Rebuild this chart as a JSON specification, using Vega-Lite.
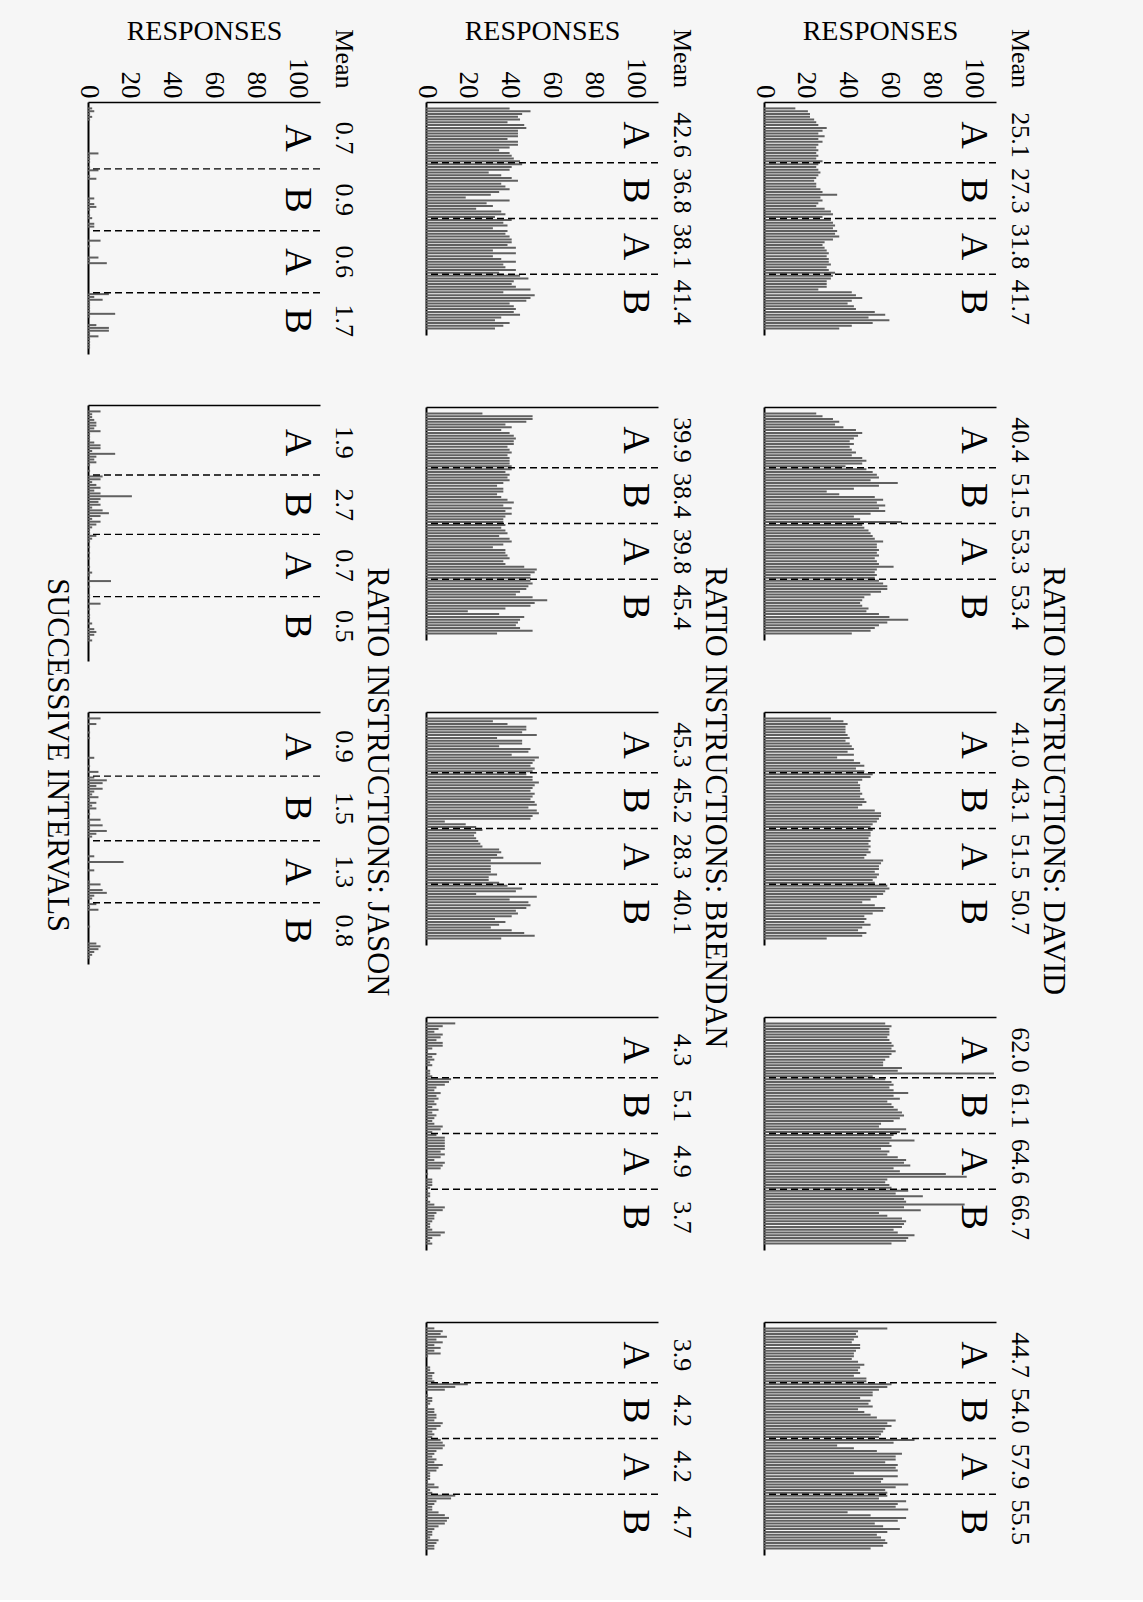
{
"$schema": "https://vega.github.io/schema/vega-lite/v6.json",
"background": "#f6f6f6",
"padding": {"left": 41, "top": 17, "right": 75, "bottom": 45},
"config": {"view": {"stroke": null}, "font": "Liberation Serif", "axis": {"labelFont": "Liberation Serif", "titleFont": "Liberation Serif", "labelColor": "black", "titleColor": "black"}, "text": {"font": "Liberation Serif", "color": "black"}},
"datasets": {
"D1": [{"i":1,"v":15},{"i":2,"v":21},{"i":3,"v":22},{"i":4,"v":22},{"i":5,"v":24},{"i":6,"v":25},{"i":7,"v":26},{"i":8,"v":30},{"i":9,"v":28},{"i":10,"v":26},{"i":11,"v":29},{"i":12,"v":26},{"i":13,"v":28},{"i":14,"v":26},{"i":15,"v":25},{"i":16,"v":26},{"i":17,"v":25},{"i":18,"v":26},{"i":19,"v":25},{"i":20,"v":28},{"i":21,"v":26},{"i":22,"v":25},{"i":23,"v":26},{"i":24,"v":27},{"i":25,"v":26},{"i":26,"v":25},{"i":27,"v":24},{"i":28,"v":25},{"i":29,"v":25},{"i":30,"v":27},{"i":31,"v":28},{"i":32,"v":35},{"i":33,"v":27},{"i":34,"v":28},{"i":35,"v":26},{"i":36,"v":25},{"i":37,"v":29},{"i":38,"v":32},{"i":39,"v":33},{"i":40,"v":28},{"i":41,"v":32},{"i":42,"v":33},{"i":43,"v":34},{"i":44,"v":33},{"i":45,"v":35},{"i":46,"v":34},{"i":47,"v":36},{"i":48,"v":33},{"i":49,"v":29},{"i":50,"v":28},{"i":51,"v":29},{"i":52,"v":30},{"i":53,"v":31},{"i":54,"v":30},{"i":55,"v":31},{"i":56,"v":31},{"i":57,"v":32},{"i":58,"v":30},{"i":59,"v":31},{"i":60,"v":34},{"i":61,"v":33},{"i":62,"v":32},{"i":63,"v":30},{"i":64,"v":30},{"i":65,"v":30},{"i":66,"v":26},{"i":67,"v":42},{"i":68,"v":44},{"i":69,"v":47},{"i":70,"v":42},{"i":71,"v":40},{"i":72,"v":43},{"i":73,"v":44},{"i":74,"v":53},{"i":75,"v":58},{"i":76,"v":50},{"i":77,"v":60},{"i":78,"v":52},{"i":79,"v":42},{"i":80,"v":36}],
"D2": [{"i":1,"v":25},{"i":2,"v":28},{"i":3,"v":33},{"i":4,"v":36},{"i":5,"v":34},{"i":6,"v":38},{"i":7,"v":44},{"i":8,"v":47},{"i":9,"v":45},{"i":10,"v":43},{"i":11,"v":41},{"i":12,"v":43},{"i":13,"v":41},{"i":14,"v":42},{"i":15,"v":44},{"i":16,"v":42},{"i":17,"v":47},{"i":18,"v":49},{"i":19,"v":47},{"i":20,"v":39},{"i":21,"v":49},{"i":22,"v":52},{"i":23,"v":54},{"i":24,"v":55},{"i":25,"v":51},{"i":26,"v":64},{"i":27,"v":55},{"i":28,"v":43},{"i":29,"v":30},{"i":30,"v":36},{"i":31,"v":53},{"i":32,"v":57},{"i":33,"v":54},{"i":34,"v":58},{"i":35,"v":55},{"i":36,"v":58},{"i":37,"v":51},{"i":38,"v":43},{"i":39,"v":46},{"i":40,"v":66},{"i":41,"v":47},{"i":42,"v":48},{"i":43,"v":50},{"i":44,"v":51},{"i":45,"v":52},{"i":46,"v":53},{"i":47,"v":57},{"i":48,"v":54},{"i":49,"v":54},{"i":50,"v":55},{"i":51,"v":54},{"i":52,"v":55},{"i":53,"v":53},{"i":54,"v":54},{"i":55,"v":55},{"i":56,"v":62},{"i":57,"v":54},{"i":58,"v":53},{"i":59,"v":54},{"i":60,"v":53},{"i":61,"v":55},{"i":62,"v":57},{"i":63,"v":59},{"i":64,"v":59},{"i":65,"v":56},{"i":66,"v":51},{"i":67,"v":48},{"i":68,"v":47},{"i":69,"v":46},{"i":70,"v":47},{"i":71,"v":50},{"i":72,"v":49},{"i":73,"v":55},{"i":74,"v":60},{"i":75,"v":69},{"i":76,"v":59},{"i":77,"v":55},{"i":78,"v":53},{"i":79,"v":51},{"i":80,"v":42}],
"D3": [{"i":1,"v":32},{"i":2,"v":38},{"i":3,"v":40},{"i":4,"v":39},{"i":5,"v":39},{"i":6,"v":39},{"i":7,"v":40},{"i":8,"v":41},{"i":9,"v":39},{"i":10,"v":41},{"i":11,"v":42},{"i":12,"v":43},{"i":13,"v":40},{"i":14,"v":43},{"i":15,"v":35},{"i":16,"v":43},{"i":17,"v":46},{"i":18,"v":48},{"i":19,"v":44},{"i":20,"v":48},{"i":21,"v":52},{"i":22,"v":51},{"i":23,"v":47},{"i":24,"v":45},{"i":25,"v":46},{"i":26,"v":46},{"i":27,"v":46},{"i":28,"v":47},{"i":29,"v":46},{"i":30,"v":48},{"i":31,"v":49},{"i":32,"v":47},{"i":33,"v":45},{"i":34,"v":53},{"i":35,"v":56},{"i":36,"v":56},{"i":37,"v":55},{"i":38,"v":54},{"i":39,"v":52},{"i":40,"v":51},{"i":41,"v":52},{"i":42,"v":51},{"i":43,"v":51},{"i":44,"v":50},{"i":45,"v":51},{"i":46,"v":50},{"i":47,"v":51},{"i":48,"v":50},{"i":49,"v":51},{"i":50,"v":49},{"i":51,"v":48},{"i":52,"v":57},{"i":53,"v":56},{"i":54,"v":55},{"i":55,"v":55},{"i":56,"v":53},{"i":57,"v":55},{"i":58,"v":54},{"i":59,"v":52},{"i":60,"v":53},{"i":61,"v":59},{"i":62,"v":60},{"i":63,"v":58},{"i":64,"v":57},{"i":65,"v":54},{"i":66,"v":51},{"i":67,"v":47},{"i":68,"v":53},{"i":69,"v":58},{"i":70,"v":57},{"i":71,"v":52},{"i":72,"v":48},{"i":73,"v":49},{"i":74,"v":48},{"i":75,"v":51},{"i":76,"v":47},{"i":77,"v":45},{"i":78,"v":49},{"i":79,"v":47},{"i":80,"v":30}],
"D4": [{"i":1,"v":58},{"i":2,"v":61},{"i":3,"v":60},{"i":4,"v":60},{"i":5,"v":60},{"i":6,"v":59},{"i":7,"v":60},{"i":8,"v":61},{"i":9,"v":62},{"i":10,"v":61},{"i":11,"v":63},{"i":12,"v":61},{"i":13,"v":60},{"i":14,"v":58},{"i":15,"v":57},{"i":16,"v":57},{"i":17,"v":66},{"i":18,"v":64},{"i":19,"v":110},{"i":20,"v":52},{"i":21,"v":58},{"i":22,"v":61},{"i":23,"v":62},{"i":24,"v":60},{"i":25,"v":62},{"i":26,"v":69},{"i":27,"v":62},{"i":28,"v":65},{"i":29,"v":59},{"i":30,"v":61},{"i":31,"v":62},{"i":32,"v":64},{"i":33,"v":66},{"i":34,"v":67},{"i":35,"v":65},{"i":36,"v":62},{"i":37,"v":56},{"i":38,"v":55},{"i":39,"v":68},{"i":40,"v":65},{"i":41,"v":62},{"i":42,"v":61},{"i":43,"v":72},{"i":44,"v":60},{"i":45,"v":61},{"i":46,"v":56},{"i":47,"v":60},{"i":48,"v":59},{"i":49,"v":64},{"i":50,"v":68},{"i":51,"v":67},{"i":52,"v":70},{"i":53,"v":62},{"i":54,"v":65},{"i":55,"v":87},{"i":56,"v":97},{"i":57,"v":59},{"i":58,"v":58},{"i":59,"v":60},{"i":60,"v":61},{"i":61,"v":69},{"i":62,"v":63},{"i":63,"v":76},{"i":64,"v":67},{"i":65,"v":68},{"i":66,"v":96},{"i":67,"v":67},{"i":68,"v":75},{"i":69,"v":55},{"i":70,"v":59},{"i":71,"v":66},{"i":72,"v":68},{"i":73,"v":67},{"i":74,"v":66},{"i":75,"v":62},{"i":76,"v":64},{"i":77,"v":72},{"i":78,"v":69},{"i":79,"v":68},{"i":80,"v":61}],
"D5": [{"i":1,"v":59},{"i":2,"v":45},{"i":3,"v":44},{"i":4,"v":45},{"i":5,"v":43},{"i":6,"v":42},{"i":7,"v":46},{"i":8,"v":46},{"i":9,"v":44},{"i":10,"v":43},{"i":11,"v":43},{"i":12,"v":42},{"i":13,"v":45},{"i":14,"v":48},{"i":15,"v":46},{"i":16,"v":45},{"i":17,"v":46},{"i":18,"v":43},{"i":19,"v":49},{"i":20,"v":49},{"i":21,"v":61},{"i":22,"v":59},{"i":23,"v":55},{"i":24,"v":52},{"i":25,"v":52},{"i":26,"v":46},{"i":27,"v":51},{"i":28,"v":50},{"i":29,"v":52},{"i":30,"v":45},{"i":31,"v":48},{"i":32,"v":51},{"i":33,"v":54},{"i":34,"v":63},{"i":35,"v":59},{"i":36,"v":61},{"i":37,"v":58},{"i":38,"v":57},{"i":39,"v":56},{"i":40,"v":55},{"i":41,"v":72},{"i":42,"v":62},{"i":43,"v":35},{"i":44,"v":43},{"i":45,"v":54},{"i":46,"v":66},{"i":47,"v":63},{"i":48,"v":63},{"i":49,"v":58},{"i":50,"v":64},{"i":51,"v":63},{"i":52,"v":64},{"i":53,"v":43},{"i":54,"v":64},{"i":55,"v":57},{"i":56,"v":56},{"i":57,"v":69},{"i":58,"v":63},{"i":59,"v":58},{"i":60,"v":59},{"i":61,"v":59},{"i":62,"v":55},{"i":63,"v":68},{"i":64,"v":64},{"i":65,"v":63},{"i":66,"v":69},{"i":67,"v":40},{"i":68,"v":51},{"i":69,"v":68},{"i":70,"v":64},{"i":71,"v":53},{"i":72,"v":57},{"i":73,"v":65},{"i":74,"v":59},{"i":75,"v":54},{"i":76,"v":56},{"i":77,"v":58},{"i":78,"v":59},{"i":79,"v":57},{"i":80,"v":51}],
"B1": [{"i":1,"v":40},{"i":2,"v":50},{"i":3,"v":46},{"i":4,"v":44},{"i":5,"v":45},{"i":6,"v":39},{"i":7,"v":47},{"i":8,"v":48},{"i":9,"v":44},{"i":10,"v":44},{"i":11,"v":44},{"i":12,"v":39},{"i":13,"v":44},{"i":14,"v":44},{"i":15,"v":40},{"i":16,"v":35},{"i":17,"v":40},{"i":18,"v":41},{"i":19,"v":42},{"i":20,"v":45},{"i":21,"v":46},{"i":22,"v":41},{"i":23,"v":40},{"i":24,"v":30},{"i":25,"v":36},{"i":26,"v":41},{"i":27,"v":44},{"i":28,"v":36},{"i":29,"v":38},{"i":30,"v":40},{"i":31,"v":35},{"i":32,"v":31},{"i":33,"v":19},{"i":34,"v":40},{"i":35,"v":29},{"i":36,"v":32},{"i":37,"v":24},{"i":38,"v":36},{"i":39,"v":38},{"i":40,"v":33},{"i":41,"v":41},{"i":42,"v":37},{"i":43,"v":39},{"i":44,"v":32},{"i":45,"v":39},{"i":46,"v":38},{"i":47,"v":40},{"i":48,"v":41},{"i":49,"v":41},{"i":50,"v":39},{"i":51,"v":43},{"i":52,"v":32},{"i":53,"v":43},{"i":54,"v":32},{"i":55,"v":36},{"i":56,"v":43},{"i":57,"v":37},{"i":58,"v":38},{"i":59,"v":43},{"i":60,"v":35},{"i":61,"v":45},{"i":62,"v":49},{"i":63,"v":42},{"i":64,"v":41},{"i":65,"v":43},{"i":66,"v":50},{"i":67,"v":37},{"i":68,"v":52},{"i":69,"v":50},{"i":70,"v":48},{"i":71,"v":40},{"i":72,"v":42},{"i":73,"v":43},{"i":74,"v":42},{"i":75,"v":45},{"i":76,"v":36},{"i":77,"v":33},{"i":78,"v":40},{"i":79,"v":37},{"i":80,"v":33}],
"B2": [{"i":1,"v":27},{"i":2,"v":51},{"i":3,"v":51},{"i":4,"v":48},{"i":5,"v":38},{"i":6,"v":41},{"i":7,"v":36},{"i":8,"v":40},{"i":9,"v":42},{"i":10,"v":43},{"i":11,"v":42},{"i":12,"v":42},{"i":13,"v":39},{"i":14,"v":40},{"i":15,"v":41},{"i":16,"v":39},{"i":17,"v":40},{"i":18,"v":40},{"i":19,"v":40},{"i":20,"v":41},{"i":21,"v":41},{"i":22,"v":38},{"i":23,"v":40},{"i":24,"v":39},{"i":25,"v":40},{"i":26,"v":37},{"i":27,"v":34},{"i":28,"v":37},{"i":29,"v":37},{"i":30,"v":34},{"i":31,"v":36},{"i":32,"v":39},{"i":33,"v":42},{"i":34,"v":37},{"i":35,"v":41},{"i":36,"v":38},{"i":37,"v":41},{"i":38,"v":38},{"i":39,"v":37},{"i":40,"v":37},{"i":41,"v":38},{"i":42,"v":36},{"i":43,"v":38},{"i":44,"v":39},{"i":45,"v":35},{"i":46,"v":40},{"i":47,"v":41},{"i":48,"v":37},{"i":49,"v":32},{"i":50,"v":38},{"i":51,"v":38},{"i":52,"v":39},{"i":53,"v":40},{"i":54,"v":37},{"i":55,"v":38},{"i":56,"v":47},{"i":57,"v":53},{"i":58,"v":52},{"i":59,"v":50},{"i":60,"v":50},{"i":61,"v":50},{"i":62,"v":51},{"i":63,"v":49},{"i":64,"v":48},{"i":65,"v":45},{"i":66,"v":43},{"i":67,"v":51},{"i":68,"v":58},{"i":69,"v":52},{"i":70,"v":50},{"i":71,"v":38},{"i":72,"v":20},{"i":73,"v":35},{"i":74,"v":47},{"i":75,"v":45},{"i":76,"v":44},{"i":77,"v":43},{"i":78,"v":45},{"i":79,"v":51},{"i":80,"v":34}],
"B3": [{"i":1,"v":53},{"i":2,"v":32},{"i":3,"v":39},{"i":4,"v":48},{"i":5,"v":48},{"i":6,"v":46},{"i":7,"v":53},{"i":8,"v":34},{"i":9,"v":46},{"i":10,"v":46},{"i":11,"v":35},{"i":12,"v":50},{"i":13,"v":49},{"i":14,"v":41},{"i":15,"v":54},{"i":16,"v":52},{"i":17,"v":51},{"i":18,"v":50},{"i":19,"v":52},{"i":20,"v":51},{"i":21,"v":48},{"i":22,"v":51},{"i":23,"v":51},{"i":24,"v":54},{"i":25,"v":52},{"i":26,"v":51},{"i":27,"v":50},{"i":28,"v":52},{"i":29,"v":51},{"i":30,"v":50},{"i":31,"v":52},{"i":32,"v":53},{"i":33,"v":49},{"i":34,"v":53},{"i":35,"v":54},{"i":36,"v":51},{"i":37,"v":50},{"i":38,"v":9},{"i":39,"v":19},{"i":40,"v":24},{"i":41,"v":27},{"i":42,"v":24},{"i":43,"v":23},{"i":44,"v":24},{"i":45,"v":25},{"i":46,"v":26},{"i":47,"v":27},{"i":48,"v":35},{"i":49,"v":36},{"i":50,"v":34},{"i":51,"v":37},{"i":52,"v":31},{"i":53,"v":55},{"i":54,"v":31},{"i":55,"v":31},{"i":56,"v":31},{"i":57,"v":34},{"i":58,"v":30},{"i":59,"v":30},{"i":60,"v":35},{"i":61,"v":39},{"i":62,"v":46},{"i":63,"v":43},{"i":64,"v":24},{"i":65,"v":53},{"i":66,"v":40},{"i":67,"v":49},{"i":68,"v":50},{"i":69,"v":48},{"i":70,"v":43},{"i":71,"v":44},{"i":72,"v":41},{"i":73,"v":33},{"i":74,"v":38},{"i":75,"v":35},{"i":76,"v":31},{"i":77,"v":41},{"i":78,"v":47},{"i":79,"v":52},{"i":80,"v":36}],
"B4": [{"i":1,"v":14},{"i":2,"v":8},{"i":3,"v":6},{"i":4,"v":4},{"i":5,"v":8},{"i":6,"v":7},{"i":7,"v":5},{"i":8,"v":8},{"i":9,"v":8},{"i":10,"v":3},{"i":11,"v":1},{"i":12,"v":5},{"i":13,"v":3},{"i":14,"v":4},{"i":15,"v":2},{"i":16,"v":3},{"i":17,"v":0},{"i":18,"v":2},{"i":19,"v":2},{"i":20,"v":3},{"i":21,"v":12},{"i":22,"v":11},{"i":23,"v":9},{"i":24,"v":5},{"i":25,"v":4},{"i":26,"v":7},{"i":27,"v":5},{"i":28,"v":6},{"i":29,"v":4},{"i":30,"v":5},{"i":31,"v":3},{"i":32,"v":6},{"i":33,"v":3},{"i":34,"v":5},{"i":35,"v":4},{"i":36,"v":3},{"i":37,"v":4},{"i":38,"v":8},{"i":39,"v":7},{"i":40,"v":3},{"i":41,"v":5},{"i":42,"v":9},{"i":43,"v":9},{"i":44,"v":9},{"i":45,"v":9},{"i":46,"v":9},{"i":47,"v":7},{"i":48,"v":9},{"i":49,"v":7},{"i":50,"v":4},{"i":51,"v":9},{"i":52,"v":8},{"i":53,"v":7},{"i":54,"v":0},{"i":55,"v":1},{"i":56,"v":0},{"i":57,"v":3},{"i":58,"v":3},{"i":59,"v":3},{"i":60,"v":2},{"i":61,"v":1},{"i":62,"v":2},{"i":63,"v":2},{"i":64,"v":1},{"i":65,"v":2},{"i":66,"v":4},{"i":67,"v":9},{"i":68,"v":8},{"i":69,"v":5},{"i":70,"v":4},{"i":71,"v":4},{"i":72,"v":3},{"i":73,"v":2},{"i":74,"v":2},{"i":75,"v":3},{"i":76,"v":9},{"i":77,"v":7},{"i":78,"v":3},{"i":79,"v":2},{"i":80,"v":3}],
"B5": [{"i":1,"v":4},{"i":2,"v":8},{"i":3,"v":7},{"i":4,"v":10},{"i":5,"v":5},{"i":6,"v":8},{"i":7,"v":4},{"i":8,"v":7},{"i":9,"v":4},{"i":10,"v":7},{"i":11,"v":1},{"i":12,"v":0},{"i":13,"v":0},{"i":14,"v":0},{"i":15,"v":2},{"i":16,"v":2},{"i":17,"v":4},{"i":18,"v":3},{"i":19,"v":3},{"i":20,"v":4},{"i":21,"v":20},{"i":22,"v":14},{"i":23,"v":9},{"i":24,"v":0},{"i":25,"v":1},{"i":26,"v":3},{"i":27,"v":3},{"i":28,"v":2},{"i":29,"v":1},{"i":30,"v":4},{"i":31,"v":4},{"i":32,"v":5},{"i":33,"v":5},{"i":34,"v":4},{"i":35,"v":8},{"i":36,"v":7},{"i":37,"v":5},{"i":38,"v":3},{"i":39,"v":4},{"i":40,"v":3},{"i":41,"v":7},{"i":42,"v":8},{"i":43,"v":9},{"i":44,"v":8},{"i":45,"v":5},{"i":46,"v":4},{"i":47,"v":3},{"i":48,"v":5},{"i":49,"v":4},{"i":50,"v":8},{"i":51,"v":6},{"i":52,"v":5},{"i":53,"v":2},{"i":54,"v":2},{"i":55,"v":2},{"i":56,"v":1},{"i":57,"v":4},{"i":58,"v":6},{"i":59,"v":2},{"i":60,"v":3},{"i":61,"v":14},{"i":62,"v":12},{"i":63,"v":5},{"i":64,"v":4},{"i":65,"v":3},{"i":66,"v":3},{"i":67,"v":6},{"i":68,"v":9},{"i":69,"v":11},{"i":70,"v":10},{"i":71,"v":9},{"i":72,"v":6},{"i":73,"v":4},{"i":74,"v":3},{"i":75,"v":3},{"i":76,"v":2},{"i":77,"v":6},{"i":78,"v":5},{"i":79,"v":4},{"i":80,"v":4}],
"J1": [{"i":1,"v":2},{"i":2,"v":3},{"i":3,"v":1},{"i":4,"v":2},{"i":5,"v":1},{"i":6,"v":0},{"i":7,"v":0},{"i":8,"v":0},{"i":9,"v":0},{"i":10,"v":0},{"i":11,"v":0},{"i":12,"v":0},{"i":13,"v":0},{"i":14,"v":0},{"i":15,"v":0},{"i":16,"v":0},{"i":17,"v":5},{"i":18,"v":1},{"i":19,"v":1},{"i":20,"v":1},{"i":21,"v":0},{"i":22,"v":1},{"i":23,"v":5},{"i":24,"v":0},{"i":25,"v":1},{"i":26,"v":4},{"i":27,"v":0},{"i":28,"v":0},{"i":29,"v":0},{"i":30,"v":0},{"i":31,"v":0},{"i":32,"v":0},{"i":33,"v":3},{"i":34,"v":1},{"i":35,"v":3},{"i":36,"v":4},{"i":37,"v":1},{"i":38,"v":0},{"i":39,"v":1},{"i":40,"v":2},{"i":41,"v":0},{"i":42,"v":3},{"i":43,"v":3},{"i":44,"v":0},{"i":45,"v":0},{"i":46,"v":0},{"i":47,"v":0},{"i":48,"v":6},{"i":49,"v":0},{"i":50,"v":1},{"i":51,"v":0},{"i":52,"v":0},{"i":53,"v":0},{"i":54,"v":5},{"i":55,"v":1},{"i":56,"v":9},{"i":57,"v":0},{"i":58,"v":0},{"i":59,"v":0},{"i":60,"v":0},{"i":61,"v":0},{"i":62,"v":0},{"i":63,"v":0},{"i":64,"v":0},{"i":65,"v":0},{"i":66,"v":0},{"i":67,"v":10},{"i":68,"v":3},{"i":69,"v":7},{"i":70,"v":1},{"i":71,"v":1},{"i":72,"v":1},{"i":73,"v":1},{"i":74,"v":13},{"i":75,"v":1},{"i":76,"v":0},{"i":77,"v":0},{"i":78,"v":4},{"i":79,"v":10},{"i":80,"v":10},{"i":81,"v":1},{"i":82,"v":5},{"i":83,"v":1},{"i":84,"v":1},{"i":85,"v":1},{"i":86,"v":1}],
"J2": [{"i":1,"v":6},{"i":2,"v":2},{"i":3,"v":2},{"i":4,"v":3},{"i":5,"v":4},{"i":6,"v":4},{"i":7,"v":3},{"i":8,"v":6},{"i":9,"v":1},{"i":10,"v":1},{"i":11,"v":1},{"i":12,"v":3},{"i":13,"v":6},{"i":14,"v":6},{"i":15,"v":2},{"i":16,"v":13},{"i":17,"v":4},{"i":18,"v":3},{"i":19,"v":4},{"i":20,"v":1},{"i":21,"v":0},{"i":22,"v":1},{"i":23,"v":0},{"i":24,"v":7},{"i":25,"v":6},{"i":26,"v":2},{"i":27,"v":4},{"i":28,"v":6},{"i":29,"v":3},{"i":30,"v":6},{"i":31,"v":21},{"i":32,"v":6},{"i":33,"v":5},{"i":34,"v":6},{"i":35,"v":2},{"i":36,"v":7},{"i":37,"v":10},{"i":38,"v":6},{"i":39,"v":2},{"i":40,"v":6},{"i":41,"v":4},{"i":42,"v":2},{"i":43,"v":1},{"i":44,"v":1},{"i":45,"v":4},{"i":46,"v":2},{"i":47,"v":1},{"i":48,"v":0},{"i":49,"v":1},{"i":50,"v":0},{"i":51,"v":1},{"i":52,"v":0},{"i":53,"v":1},{"i":54,"v":0},{"i":55,"v":0},{"i":56,"v":1},{"i":57,"v":0},{"i":58,"v":2},{"i":59,"v":1},{"i":60,"v":0},{"i":61,"v":11},{"i":62,"v":0},{"i":63,"v":1},{"i":64,"v":0},{"i":65,"v":0},{"i":66,"v":1},{"i":67,"v":1},{"i":68,"v":0},{"i":69,"v":6},{"i":70,"v":0},{"i":71,"v":1},{"i":72,"v":0},{"i":73,"v":1},{"i":74,"v":1},{"i":75,"v":0},{"i":76,"v":2},{"i":77,"v":0},{"i":78,"v":3},{"i":79,"v":4},{"i":80,"v":3},{"i":81,"v":1},{"i":82,"v":2},{"i":83,"v":0},{"i":84,"v":0},{"i":85,"v":0},{"i":86,"v":0},{"i":87,"v":0}],
"J3": [{"i":1,"v":6},{"i":2,"v":0},{"i":3,"v":4},{"i":4,"v":0},{"i":5,"v":0},{"i":6,"v":1},{"i":7,"v":0},{"i":8,"v":1},{"i":9,"v":0},{"i":10,"v":0},{"i":11,"v":0},{"i":12,"v":0},{"i":13,"v":0},{"i":14,"v":0},{"i":15,"v":3},{"i":16,"v":0},{"i":17,"v":0},{"i":18,"v":1},{"i":19,"v":0},{"i":20,"v":5},{"i":21,"v":0},{"i":22,"v":3},{"i":23,"v":9},{"i":24,"v":7},{"i":25,"v":4},{"i":26,"v":7},{"i":27,"v":3},{"i":28,"v":2},{"i":29,"v":5},{"i":30,"v":1},{"i":31,"v":4},{"i":32,"v":2},{"i":33,"v":4},{"i":34,"v":0},{"i":35,"v":1},{"i":36,"v":0},{"i":37,"v":6},{"i":38,"v":1},{"i":39,"v":7},{"i":40,"v":1},{"i":41,"v":9},{"i":42,"v":4},{"i":43,"v":2},{"i":44,"v":0},{"i":45,"v":0},{"i":46,"v":0},{"i":47,"v":0},{"i":48,"v":0},{"i":49,"v":0},{"i":50,"v":3},{"i":51,"v":0},{"i":52,"v":17},{"i":53,"v":0},{"i":54,"v":0},{"i":55,"v":3},{"i":56,"v":0},{"i":57,"v":0},{"i":58,"v":0},{"i":59,"v":1},{"i":60,"v":6},{"i":61,"v":1},{"i":62,"v":7},{"i":63,"v":9},{"i":64,"v":3},{"i":65,"v":2},{"i":66,"v":0},{"i":67,"v":4},{"i":68,"v":1},{"i":69,"v":5},{"i":70,"v":0},{"i":71,"v":0},{"i":72,"v":0},{"i":73,"v":0},{"i":74,"v":0},{"i":75,"v":1},{"i":76,"v":0},{"i":77,"v":0},{"i":78,"v":0},{"i":79,"v":0},{"i":80,"v":0},{"i":81,"v":4},{"i":82,"v":6},{"i":83,"v":5},{"i":84,"v":3},{"i":85,"v":2},{"i":86,"v":1}]
},
"bounds": "flush",
"spacing": 338,
"hconcat": [
{"bounds": "flush", "spacing": 51, "vconcat": [
 {"width": 232, "height": 252, "layer": [
  {"data": {"name": "J1"}, "mark": {"type": "bar", "orient": "horizontal", "size": 2, "color": "#606060"}, "encoding": {"y": {"field": "i", "type": "quantitative", "scale": {"domain": [0.5, 86.5], "reverse": true, "nice": false, "zero": false}, "axis": {"orient": "left", "labels": false, "ticks": false, "grid": false, "title": null, "domainColor": "black", "domainWidth": 2}}, "x": {"field": "v", "type": "quantitative", "scale": {"domain": [0, 111], "nice": false}, "axis": {"orient": "top", "values": [0, 20, 40, 60, 80, 100], "labelAngle": 90, "labelAlign": "right", "labelBaseline": "middle", "labelFontSize": 27, "labelPadding": 4, "labelOverlap": false, "labelFlush": false, "ticks": false, "grid": false, "domainColor": "black", "domainWidth": 1.5, "title": "RESPONSES", "titleFontSize": 28, "titleFontWeight": "normal", "titlePadding": 12}}}},
  {"data": {"values": [{"at": 22.5}, {"at": 44.5}, {"at": 66.5}]}, "mark": {"type": "rule", "strokeDash": [7, 4], "strokeWidth": 1.4, "color": "black"}, "encoding": {"y": {"field": "at", "type": "quantitative"}}},
  {"data": {"values": [{"at": 11.5, "t": "A", "m": "0.7"}, {"at": 33.5, "t": "B", "m": "0.9"}, {"at": 55.5, "t": "A", "m": "0.6"}, {"at": 76.5, "t": "B", "m": "1.7"}]}, "encoding": {"y": {"field": "at", "type": "quantitative"}}, "layer": [
   {"mark": {"type": "text", "angle": 90, "fontSize": 38}, "encoding": {"x": {"datum": 100}, "text": {"field": "t"}}},
   {"mark": {"type": "text", "angle": 90, "fontSize": 26}, "encoding": {"x": {"datum": 122.5}, "text": {"field": "m"}}}]},
  {"data": {"values": [{}]}, "mark": {"type": "text", "angle": 90, "fontSize": 26}, "encoding": {"x": {"datum": 122.5}, "y": {"datum": -16.6}, "text": {"value": "Mean"}}}
 ]},
 {"width": 232, "height": 256, "layer": [
  {"data": {"name": "J2"}, "mark": {"type": "bar", "orient": "horizontal", "size": 2, "color": "#606060"}, "encoding": {"y": {"field": "i", "type": "quantitative", "scale": {"domain": [0.5, 87.5], "reverse": true, "nice": false, "zero": false}, "axis": {"orient": "left", "labels": false, "ticks": false, "grid": false, "title": null, "domainColor": "black", "domainWidth": 2}}, "x": {"field": "v", "type": "quantitative", "scale": {"domain": [0, 111], "nice": false}, "axis": {"orient": "top", "labels": false, "ticks": false, "grid": false, "title": null, "domainColor": "black", "domainWidth": 1.5}}}},
  {"data": {"values": [{"at": 23.5}, {"at": 44.5}, {"at": 66.5}]}, "mark": {"type": "rule", "strokeDash": [7, 4], "strokeWidth": 1.4, "color": "black"}, "encoding": {"y": {"field": "at", "type": "quantitative"}}},
  {"data": {"values": [{"at": 12, "t": "A", "m": "1.9"}, {"at": 34, "t": "B", "m": "2.7"}, {"at": 55.5, "t": "A", "m": "0.7"}, {"at": 77, "t": "B", "m": "0.5"}]}, "encoding": {"y": {"field": "at", "type": "quantitative"}}, "layer": [
   {"mark": {"type": "text", "angle": 90, "fontSize": 38}, "encoding": {"x": {"datum": 100}, "text": {"field": "t"}}},
   {"mark": {"type": "text", "angle": 90, "fontSize": 26}, "encoding": {"x": {"datum": 122.5}, "text": {"field": "m"}}}]},
  {"data": {"values": [{}]}, "mark": {"type": "text", "angle": 90, "fontSize": 30.5, "align": "left"}, "encoding": {"x": {"datum": 138.5}, "y": {"datum": 56.2}, "text": {"value": "RATIO INSTRUCTIONS: JASON"}}},
  {"data": {"values": [{}]}, "mark": {"type": "text", "angle": 90, "fontSize": 30.5, "align": "left"}, "encoding": {"x": {"datum": -14.8}, "y": {"datum": 60}, "text": {"value": "SUCCESSIVE INTERVALS"}}}
 ]},
 {"width": 232, "height": 252, "layer": [
  {"data": {"name": "J3"}, "mark": {"type": "bar", "orient": "horizontal", "size": 2, "color": "#606060"}, "encoding": {"y": {"field": "i", "type": "quantitative", "scale": {"domain": [0.5, 86.5], "reverse": true, "nice": false, "zero": false}, "axis": {"orient": "left", "labels": false, "ticks": false, "grid": false, "title": null, "domainColor": "black", "domainWidth": 2}}, "x": {"field": "v", "type": "quantitative", "scale": {"domain": [0, 111], "nice": false}, "axis": {"orient": "top", "labels": false, "ticks": false, "grid": false, "title": null, "domainColor": "black", "domainWidth": 1.5}}}},
  {"data": {"values": [{"at": 21.5}, {"at": 44.5}, {"at": 66.5}]}, "mark": {"type": "rule", "strokeDash": [7, 4], "strokeWidth": 1.4, "color": "black"}, "encoding": {"y": {"field": "at", "type": "quantitative"}}},
  {"data": {"values": [{"at": 11, "t": "A", "m": "0.9"}, {"at": 33, "t": "B", "m": "1.5"}, {"at": 55.5, "t": "A", "m": "1.3"}, {"at": 76.5, "t": "B", "m": "0.8"}]}, "encoding": {"y": {"field": "at", "type": "quantitative"}}, "layer": [
   {"mark": {"type": "text", "angle": 90, "fontSize": 38}, "encoding": {"x": {"datum": 100}, "text": {"field": "t"}}},
   {"mark": {"type": "text", "angle": 90, "fontSize": 26}, "encoding": {"x": {"datum": 122.5}, "text": {"field": "m"}}}]}
 ]}
]},
{"bounds": "flush", "spacing": 72, "vconcat": [
 {"width": 232, "height": 233, "layer": [
  {"data": {"name": "B1"}, "mark": {"type": "bar", "orient": "horizontal", "size": 2, "color": "#606060"}, "encoding": {"y": {"field": "i", "type": "quantitative", "scale": {"domain": [0.5, 80.5], "reverse": true, "nice": false, "zero": false}, "axis": {"orient": "left", "labels": false, "ticks": false, "grid": false, "title": null, "domainColor": "black", "domainWidth": 2}}, "x": {"field": "v", "type": "quantitative", "scale": {"domain": [0, 111], "nice": false}, "axis": {"orient": "top", "values": [0, 20, 40, 60, 80, 100], "labelAngle": 90, "labelAlign": "right", "labelBaseline": "middle", "labelFontSize": 27, "labelPadding": 4, "labelOverlap": false, "labelFlush": false, "ticks": false, "grid": false, "domainColor": "black", "domainWidth": 1.5, "title": "RESPONSES", "titleFontSize": 28, "titleFontWeight": "normal", "titlePadding": 12}}}},
  {"data": {"values": [{"at": 20.5}, {"at": 40.5}, {"at": 60.5}]}, "mark": {"type": "rule", "strokeDash": [7, 4], "strokeWidth": 1.4, "color": "black"}, "encoding": {"y": {"field": "at", "type": "quantitative"}}},
  {"data": {"values": [{"at": 10.5, "t": "A", "m": "42.6"}, {"at": 30.5, "t": "B", "m": "36.8"}, {"at": 50.5, "t": "A", "m": "38.1"}, {"at": 70.5, "t": "B", "m": "41.4"}]}, "encoding": {"y": {"field": "at", "type": "quantitative"}}, "layer": [
   {"mark": {"type": "text", "angle": 90, "fontSize": 38}, "encoding": {"x": {"datum": 100}, "text": {"field": "t"}}},
   {"mark": {"type": "text", "angle": 90, "fontSize": 26}, "encoding": {"x": {"datum": 122.5}, "text": {"field": "m"}}}]},
  {"data": {"values": [{}]}, "mark": {"type": "text", "angle": 90, "fontSize": 26}, "encoding": {"x": {"datum": 122.5}, "y": {"datum": -16.9}, "text": {"value": "Mean"}}}
 ]},
 {"width": 232, "height": 233, "layer": [
  {"data": {"name": "B2"}, "mark": {"type": "bar", "orient": "horizontal", "size": 2, "color": "#606060"}, "encoding": {"y": {"field": "i", "type": "quantitative", "scale": {"domain": [0.5, 80.5], "reverse": true, "nice": false, "zero": false}, "axis": {"orient": "left", "labels": false, "ticks": false, "grid": false, "title": null, "domainColor": "black", "domainWidth": 2}}, "x": {"field": "v", "type": "quantitative", "scale": {"domain": [0, 111], "nice": false}, "axis": {"orient": "top", "labels": false, "ticks": false, "grid": false, "title": null, "domainColor": "black", "domainWidth": 1.5}}}},
  {"data": {"values": [{"at": 20.5}, {"at": 40.5}, {"at": 60.5}]}, "mark": {"type": "rule", "strokeDash": [7, 4], "strokeWidth": 1.4, "color": "black"}, "encoding": {"y": {"field": "at", "type": "quantitative"}}},
  {"data": {"values": [{"at": 10.5, "t": "A", "m": "39.9"}, {"at": 30.5, "t": "B", "m": "38.4"}, {"at": 50.5, "t": "A", "m": "39.8"}, {"at": 70.5, "t": "B", "m": "45.4"}]}, "encoding": {"y": {"field": "at", "type": "quantitative"}}, "layer": [
   {"mark": {"type": "text", "angle": 90, "fontSize": 38}, "encoding": {"x": {"datum": 100}, "text": {"field": "t"}}},
   {"mark": {"type": "text", "angle": 90, "fontSize": 26}, "encoding": {"x": {"datum": 122.5}, "text": {"field": "m"}}}]},
  {"data": {"values": [{}]}, "mark": {"type": "text", "angle": 90, "fontSize": 30.5, "align": "left"}, "encoding": {"x": {"datum": 138.5}, "y": {"datum": 56.1}, "text": {"value": "RATIO INSTRUCTIONS: BRENDAN"}}}
 ]},
 {"width": 232, "height": 233, "layer": [
  {"data": {"name": "B3"}, "mark": {"type": "bar", "orient": "horizontal", "size": 2, "color": "#606060"}, "encoding": {"y": {"field": "i", "type": "quantitative", "scale": {"domain": [0.5, 80.5], "reverse": true, "nice": false, "zero": false}, "axis": {"orient": "left", "labels": false, "ticks": false, "grid": false, "title": null, "domainColor": "black", "domainWidth": 2}}, "x": {"field": "v", "type": "quantitative", "scale": {"domain": [0, 111], "nice": false}, "axis": {"orient": "top", "labels": false, "ticks": false, "grid": false, "title": null, "domainColor": "black", "domainWidth": 1.5}}}},
  {"data": {"values": [{"at": 20.5}, {"at": 40.5}, {"at": 60.5}]}, "mark": {"type": "rule", "strokeDash": [7, 4], "strokeWidth": 1.4, "color": "black"}, "encoding": {"y": {"field": "at", "type": "quantitative"}}},
  {"data": {"values": [{"at": 10.5, "t": "A", "m": "45.3"}, {"at": 30.5, "t": "B", "m": "45.2"}, {"at": 50.5, "t": "A", "m": "28.3"}, {"at": 70.5, "t": "B", "m": "40.1"}]}, "encoding": {"y": {"field": "at", "type": "quantitative"}}, "layer": [
   {"mark": {"type": "text", "angle": 90, "fontSize": 38}, "encoding": {"x": {"datum": 100}, "text": {"field": "t"}}},
   {"mark": {"type": "text", "angle": 90, "fontSize": 26}, "encoding": {"x": {"datum": 122.5}, "text": {"field": "m"}}}]}
 ]},
 {"width": 232, "height": 233, "layer": [
  {"data": {"name": "B4"}, "mark": {"type": "bar", "orient": "horizontal", "size": 2, "color": "#606060"}, "encoding": {"y": {"field": "i", "type": "quantitative", "scale": {"domain": [0.5, 80.5], "reverse": true, "nice": false, "zero": false}, "axis": {"orient": "left", "labels": false, "ticks": false, "grid": false, "title": null, "domainColor": "black", "domainWidth": 2}}, "x": {"field": "v", "type": "quantitative", "scale": {"domain": [0, 111], "nice": false}, "axis": {"orient": "top", "labels": false, "ticks": false, "grid": false, "title": null, "domainColor": "black", "domainWidth": 1.5}}}},
  {"data": {"values": [{"at": 20.5}, {"at": 40.5}, {"at": 60.5}]}, "mark": {"type": "rule", "strokeDash": [7, 4], "strokeWidth": 1.4, "color": "black"}, "encoding": {"y": {"field": "at", "type": "quantitative"}}},
  {"data": {"values": [{"at": 10.5, "t": "A", "m": "4.3"}, {"at": 30.5, "t": "B", "m": "5.1"}, {"at": 50.5, "t": "A", "m": "4.9"}, {"at": 70.5, "t": "B", "m": "3.7"}]}, "encoding": {"y": {"field": "at", "type": "quantitative"}}, "layer": [
   {"mark": {"type": "text", "angle": 90, "fontSize": 38}, "encoding": {"x": {"datum": 100}, "text": {"field": "t"}}},
   {"mark": {"type": "text", "angle": 90, "fontSize": 26}, "encoding": {"x": {"datum": 122.5}, "text": {"field": "m"}}}]}
 ]},
 {"width": 232, "height": 233, "layer": [
  {"data": {"name": "B5"}, "mark": {"type": "bar", "orient": "horizontal", "size": 2, "color": "#606060"}, "encoding": {"y": {"field": "i", "type": "quantitative", "scale": {"domain": [0.5, 80.5], "reverse": true, "nice": false, "zero": false}, "axis": {"orient": "left", "labels": false, "ticks": false, "grid": false, "title": null, "domainColor": "black", "domainWidth": 2}}, "x": {"field": "v", "type": "quantitative", "scale": {"domain": [0, 111], "nice": false}, "axis": {"orient": "top", "labels": false, "ticks": false, "grid": false, "title": null, "domainColor": "black", "domainWidth": 1.5}}}},
  {"data": {"values": [{"at": 20.5}, {"at": 40.5}, {"at": 60.5}]}, "mark": {"type": "rule", "strokeDash": [7, 4], "strokeWidth": 1.4, "color": "black"}, "encoding": {"y": {"field": "at", "type": "quantitative"}}},
  {"data": {"values": [{"at": 10.5, "t": "A", "m": "3.9"}, {"at": 30.5, "t": "B", "m": "4.2"}, {"at": 50.5, "t": "A", "m": "4.2"}, {"at": 70.5, "t": "B", "m": "4.7"}]}, "encoding": {"y": {"field": "at", "type": "quantitative"}}, "layer": [
   {"mark": {"type": "text", "angle": 90, "fontSize": 38}, "encoding": {"x": {"datum": 100}, "text": {"field": "t"}}},
   {"mark": {"type": "text", "angle": 90, "fontSize": 26}, "encoding": {"x": {"datum": 122.5}, "text": {"field": "m"}}}]}
 ]}
]},
{"bounds": "flush", "spacing": 72, "vconcat": [
 {"width": 232, "height": 233, "layer": [
  {"data": {"name": "D1"}, "mark": {"type": "bar", "orient": "horizontal", "size": 2, "color": "#606060"}, "encoding": {"y": {"field": "i", "type": "quantitative", "scale": {"domain": [0.5, 80.5], "reverse": true, "nice": false, "zero": false}, "axis": {"orient": "left", "labels": false, "ticks": false, "grid": false, "title": null, "domainColor": "black", "domainWidth": 2}}, "x": {"field": "v", "type": "quantitative", "scale": {"domain": [0, 111], "nice": false}, "axis": {"orient": "top", "values": [0, 20, 40, 60, 80, 100], "labelAngle": 90, "labelAlign": "right", "labelBaseline": "middle", "labelFontSize": 27, "labelPadding": 4, "labelOverlap": false, "labelFlush": false, "ticks": false, "grid": false, "domainColor": "black", "domainWidth": 1.5, "title": "RESPONSES", "titleFontSize": 28, "titleFontWeight": "normal", "titlePadding": 12}}}},
  {"data": {"values": [{"at": 20.5}, {"at": 40.5}, {"at": 60.5}]}, "mark": {"type": "rule", "strokeDash": [7, 4], "strokeWidth": 1.4, "color": "black"}, "encoding": {"y": {"field": "at", "type": "quantitative"}}},
  {"data": {"values": [{"at": 10.5, "t": "A", "m": "25.1"}, {"at": 30.5, "t": "B", "m": "27.3"}, {"at": 50.5, "t": "A", "m": "31.8"}, {"at": 70.5, "t": "B", "m": "41.7"}]}, "encoding": {"y": {"field": "at", "type": "quantitative"}}, "layer": [
   {"mark": {"type": "text", "angle": 90, "fontSize": 38}, "encoding": {"x": {"datum": 100}, "text": {"field": "t"}}},
   {"mark": {"type": "text", "angle": 90, "fontSize": 26}, "encoding": {"x": {"datum": 122.5}, "text": {"field": "m"}}}]},
  {"data": {"values": [{}]}, "mark": {"type": "text", "angle": 90, "fontSize": 26}, "encoding": {"x": {"datum": 122.5}, "y": {"datum": -16.9}, "text": {"value": "Mean"}}}
 ]},
 {"width": 232, "height": 233, "layer": [
  {"data": {"name": "D2"}, "mark": {"type": "bar", "orient": "horizontal", "size": 2, "color": "#606060"}, "encoding": {"y": {"field": "i", "type": "quantitative", "scale": {"domain": [0.5, 80.5], "reverse": true, "nice": false, "zero": false}, "axis": {"orient": "left", "labels": false, "ticks": false, "grid": false, "title": null, "domainColor": "black", "domainWidth": 2}}, "x": {"field": "v", "type": "quantitative", "scale": {"domain": [0, 111], "nice": false}, "axis": {"orient": "top", "labels": false, "ticks": false, "grid": false, "title": null, "domainColor": "black", "domainWidth": 1.5}}}},
  {"data": {"values": [{"at": 20.5}, {"at": 40.5}, {"at": 60.5}]}, "mark": {"type": "rule", "strokeDash": [7, 4], "strokeWidth": 1.4, "color": "black"}, "encoding": {"y": {"field": "at", "type": "quantitative"}}},
  {"data": {"values": [{"at": 10.5, "t": "A", "m": "40.4"}, {"at": 30.5, "t": "B", "m": "51.5"}, {"at": 50.5, "t": "A", "m": "53.3"}, {"at": 70.5, "t": "B", "m": "53.4"}]}, "encoding": {"y": {"field": "at", "type": "quantitative"}}, "layer": [
   {"mark": {"type": "text", "angle": 90, "fontSize": 38}, "encoding": {"x": {"datum": 100}, "text": {"field": "t"}}},
   {"mark": {"type": "text", "angle": 90, "fontSize": 26}, "encoding": {"x": {"datum": 122.5}, "text": {"field": "m"}}}]},
  {"data": {"values": [{}]}, "mark": {"type": "text", "angle": 90, "fontSize": 30.5, "align": "left"}, "encoding": {"x": {"datum": 138.5}, "y": {"datum": 56.1}, "text": {"value": "RATIO INSTRUCTIONS: DAVID"}}}
 ]},
 {"width": 232, "height": 233, "layer": [
  {"data": {"name": "D3"}, "mark": {"type": "bar", "orient": "horizontal", "size": 2, "color": "#606060"}, "encoding": {"y": {"field": "i", "type": "quantitative", "scale": {"domain": [0.5, 80.5], "reverse": true, "nice": false, "zero": false}, "axis": {"orient": "left", "labels": false, "ticks": false, "grid": false, "title": null, "domainColor": "black", "domainWidth": 2}}, "x": {"field": "v", "type": "quantitative", "scale": {"domain": [0, 111], "nice": false}, "axis": {"orient": "top", "labels": false, "ticks": false, "grid": false, "title": null, "domainColor": "black", "domainWidth": 1.5}}}},
  {"data": {"values": [{"at": 20.5}, {"at": 40.5}, {"at": 60.5}]}, "mark": {"type": "rule", "strokeDash": [7, 4], "strokeWidth": 1.4, "color": "black"}, "encoding": {"y": {"field": "at", "type": "quantitative"}}},
  {"data": {"values": [{"at": 10.5, "t": "A", "m": "41.0"}, {"at": 30.5, "t": "B", "m": "43.1"}, {"at": 50.5, "t": "A", "m": "51.5"}, {"at": 70.5, "t": "B", "m": "50.7"}]}, "encoding": {"y": {"field": "at", "type": "quantitative"}}, "layer": [
   {"mark": {"type": "text", "angle": 90, "fontSize": 38}, "encoding": {"x": {"datum": 100}, "text": {"field": "t"}}},
   {"mark": {"type": "text", "angle": 90, "fontSize": 26}, "encoding": {"x": {"datum": 122.5}, "text": {"field": "m"}}}]}
 ]},
 {"width": 232, "height": 233, "layer": [
  {"data": {"name": "D4"}, "mark": {"type": "bar", "orient": "horizontal", "size": 2, "color": "#606060"}, "encoding": {"y": {"field": "i", "type": "quantitative", "scale": {"domain": [0.5, 80.5], "reverse": true, "nice": false, "zero": false}, "axis": {"orient": "left", "labels": false, "ticks": false, "grid": false, "title": null, "domainColor": "black", "domainWidth": 2}}, "x": {"field": "v", "type": "quantitative", "scale": {"domain": [0, 111], "nice": false}, "axis": {"orient": "top", "labels": false, "ticks": false, "grid": false, "title": null, "domainColor": "black", "domainWidth": 1.5}}}},
  {"data": {"values": [{"at": 20.5}, {"at": 40.5}, {"at": 60.5}]}, "mark": {"type": "rule", "strokeDash": [7, 4], "strokeWidth": 1.4, "color": "black"}, "encoding": {"y": {"field": "at", "type": "quantitative"}}},
  {"data": {"values": [{"at": 10.5, "t": "A", "m": "62.0"}, {"at": 30.5, "t": "B", "m": "61.1"}, {"at": 50.5, "t": "A", "m": "64.6"}, {"at": 70.5, "t": "B", "m": "66.7"}]}, "encoding": {"y": {"field": "at", "type": "quantitative"}}, "layer": [
   {"mark": {"type": "text", "angle": 90, "fontSize": 38}, "encoding": {"x": {"datum": 100}, "text": {"field": "t"}}},
   {"mark": {"type": "text", "angle": 90, "fontSize": 26}, "encoding": {"x": {"datum": 122.5}, "text": {"field": "m"}}}]}
 ]},
 {"width": 232, "height": 233, "layer": [
  {"data": {"name": "D5"}, "mark": {"type": "bar", "orient": "horizontal", "size": 2, "color": "#606060"}, "encoding": {"y": {"field": "i", "type": "quantitative", "scale": {"domain": [0.5, 80.5], "reverse": true, "nice": false, "zero": false}, "axis": {"orient": "left", "labels": false, "ticks": false, "grid": false, "title": null, "domainColor": "black", "domainWidth": 2}}, "x": {"field": "v", "type": "quantitative", "scale": {"domain": [0, 111], "nice": false}, "axis": {"orient": "top", "labels": false, "ticks": false, "grid": false, "title": null, "domainColor": "black", "domainWidth": 1.5}}}},
  {"data": {"values": [{"at": 20.5}, {"at": 40.5}, {"at": 60.5}]}, "mark": {"type": "rule", "strokeDash": [7, 4], "strokeWidth": 1.4, "color": "black"}, "encoding": {"y": {"field": "at", "type": "quantitative"}}},
  {"data": {"values": [{"at": 10.5, "t": "A", "m": "44.7"}, {"at": 30.5, "t": "B", "m": "54.0"}, {"at": 50.5, "t": "A", "m": "57.9"}, {"at": 70.5, "t": "B", "m": "55.5"}]}, "encoding": {"y": {"field": "at", "type": "quantitative"}}, "layer": [
   {"mark": {"type": "text", "angle": 90, "fontSize": 38}, "encoding": {"x": {"datum": 100}, "text": {"field": "t"}}},
   {"mark": {"type": "text", "angle": 90, "fontSize": 26}, "encoding": {"x": {"datum": 122.5}, "text": {"field": "m"}}}]}
 ]}
]}
]
}
